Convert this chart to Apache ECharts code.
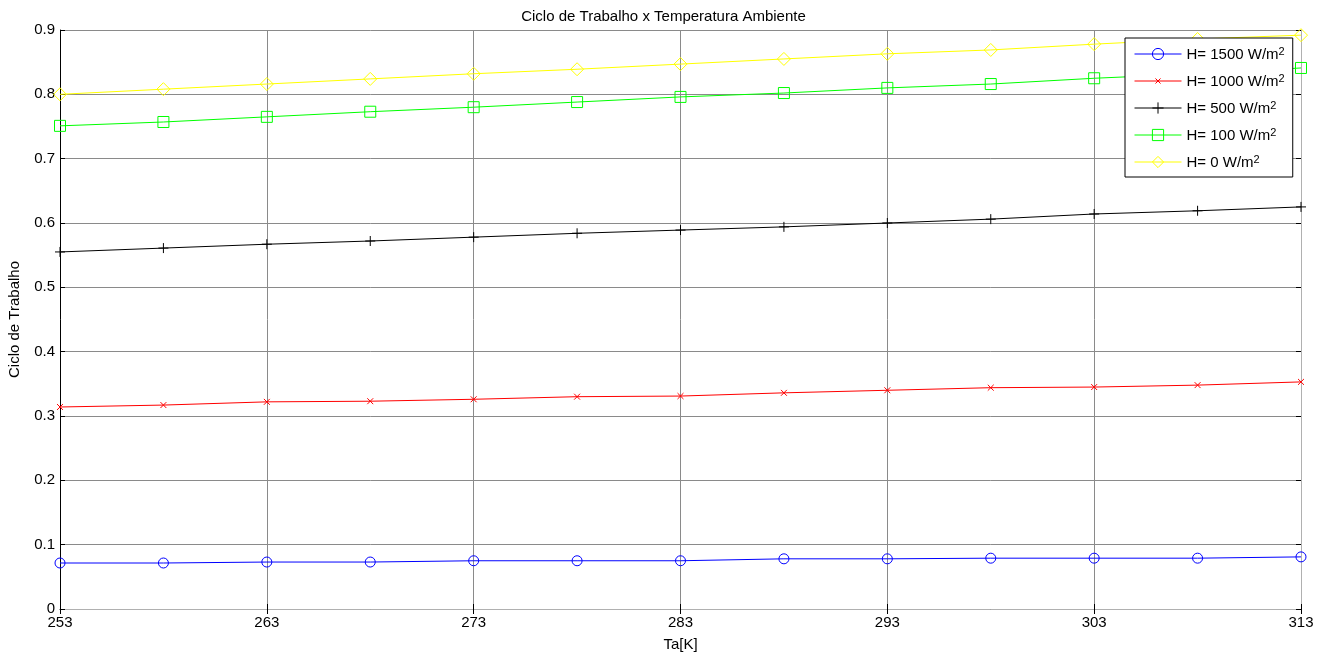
<!DOCTYPE html>
<html>
<head>
<meta charset="utf-8">
<script src="https://cdn.jsdelivr.net/npm/echarts@6/dist/echarts.min.js"></script>
<style>html,body{margin:0;padding:0;background:#fff}#c{width:1327px;height:653px}</style>
</head>
<body>
<div id="c"></div>
<script>
const categories = [253,258,263,268,273,278,283,288,293,298,303,308,313];
const yTicks = [0,0.1,0.2,0.3,0.4,0.5,0.6,0.7,0.8,0.9];
const h1500 = [0.0715,0.0715,0.073,0.073,0.075,0.075,0.075,0.078,0.078,0.079,0.079,0.079,0.081];
const h1000 = [0.314,0.317,0.322,0.323,0.326,0.330,0.331,0.336,0.340,0.344,0.345,0.348,0.353];
const h500  = [0.555,0.561,0.567,0.572,0.578,0.584,0.589,0.594,0.600,0.606,0.614,0.619,0.625];
const h100  = [0.751,0.757,0.765,0.773,0.780,0.788,0.796,0.802,0.810,0.816,0.825,0.832,0.841];
const h0    = [0.800,0.808,0.816,0.824,0.832,0.839,0.847,0.855,0.863,0.869,0.878,0.886,0.892];
const seriesNames = ['H= 1500 W/m','H= 1000 W/m','H= 500 W/m','H= 100 W/m','H= 0 W/m'];

const FONT = 'Liberation Sans, Arial, Helvetica, sans-serif';
const chart = echarts.init(document.getElementById('c'), null, {renderer:'canvas'});

function mk(name, data, color, symbol, size){
  return {
    name: name, type: 'line', data: data, xAxisIndex: 0, yAxisIndex: 0,
    symbol: symbol, symbolSize: size, showSymbol: true,
    lineStyle: {color: color, width: 1},
    itemStyle: {color: 'rgba(0,0,0,0)', borderColor: color, borderWidth: 1},
    emphasis: {disabled: true},
    animation: false, z: 3
  };
}

const option = {
  animation: false,
  backgroundColor: '#fff',
  title: {
    text: 'Ciclo de Trabalho x Temperatura Ambiente',
    left: 'center', top: 4,
    textStyle: {fontFamily: FONT, fontSize: 15, fontWeight: 'normal', color: '#000'}
  },
  grid: {left: 60, right: 26, top: 30, bottom: 44, containLabel: false, outerBoundsMode: 'none'},
  legend: {
    orient: 'vertical', left: 1125, top: 38,
    padding: [8, 8, 7, 9], itemGap: 11, itemWidth: 47, itemHeight: 14,
    borderColor: '#000', borderWidth: 1, backgroundColor: '#fff',
    lineStyle: {width: 1},
    itemStyle: {borderWidth: 1},
    data: seriesNames,
    formatter: function(n){ return '{b|' + n + '}{s|2}'; },
    textStyle: {
      fontFamily: FONT, fontSize: 15, color: '#000',
      rich: {
        b: {fontFamily: FONT, fontSize: 15, color: '#000', verticalAlign: 'bottom', lineHeight: 16},
        s: {fontFamily: FONT, fontSize: 11, color: '#000', verticalAlign: 'top', lineHeight: 10}
      }
    }
  },
  xAxis: [{
    type: 'category', data: categories, boundaryGap: false,
    name: 'Ta[K]', nameLocation: 'middle', nameGap: 28,
    nameTextStyle: {fontFamily: FONT, fontSize: 15, color: '#000'},
    axisLine: {lineStyle: {color: '#000', width: 1}},
    axisTick: {inside: true, length: 5, interval: 1, lineStyle: {color: '#000'}},
    axisLabel: {interval: 1, fontFamily: FONT, fontSize: 15, color: '#000', margin: 6},
    splitLine: {show: true, interval: 1, lineStyle: {color: '#8a8a8a', width: 1}}
  },{
    type: 'category', data: categories, boundaryGap: false, position: 'top',
    axisLine: {lineStyle: {color: '#b0b0b0', width: 1}},
    axisTick: {inside: true, length: 5, interval: 1, lineStyle: {color: '#000'}},
    axisLabel: {show: false}, splitLine: {show: false}
  }],
  yAxis: [{
    type: 'value', min: 0, max: 0.9, interval: 0.1,
    name: 'Ciclo de Trabalho', nameLocation: 'middle', nameGap: 38,
    nameTextStyle: {fontFamily: FONT, fontSize: 15, color: '#000'},
    axisLine: {show: true, lineStyle: {color: '#000', width: 1}},
    axisTick: {show: true, inside: true, length: 5, lineStyle: {color: '#000'}},
    axisLabel: {fontFamily: FONT, fontSize: 15, color: '#000', margin: 5,
      formatter: function(v){ const t = yTicks.find(x => Math.abs(x - v) < 1e-6); return String(t !== undefined ? t : v); }},
    splitLine: {show: true, lineStyle: {color: '#8a8a8a', width: 1}}
  },{
    type: 'value', min: 0, max: 0.9, interval: 0.1, position: 'right',
    axisLine: {show: true, lineStyle: {color: '#b0b0b0', width: 1}},
    axisTick: {show: true, inside: true, length: 5, lineStyle: {color: '#000'}},
    axisLabel: {show: false}, splitLine: {show: false}
  }],
  series: [
    mk(seriesNames[0], h1500, '#0000ff', 'circle', 10),
    mk(seriesNames[1], h1000, '#ff0000', 'path://M-6,-6M0,0L10,10M10,0L0,10M16,16', 13),
    mk(seriesNames[2], h500, '#000000', 'path://M5,0L5,10M0,5L10,5', 10),
    mk(seriesNames[3], h100, '#00ff00', 'rect', 11),
    mk(seriesNames[4], h0, '#ffff00', 'path://M5,0L10,5L5,10L0,5Z', 13)
  ]
};
chart.setOption(option);
</script>
</body>
</html>
